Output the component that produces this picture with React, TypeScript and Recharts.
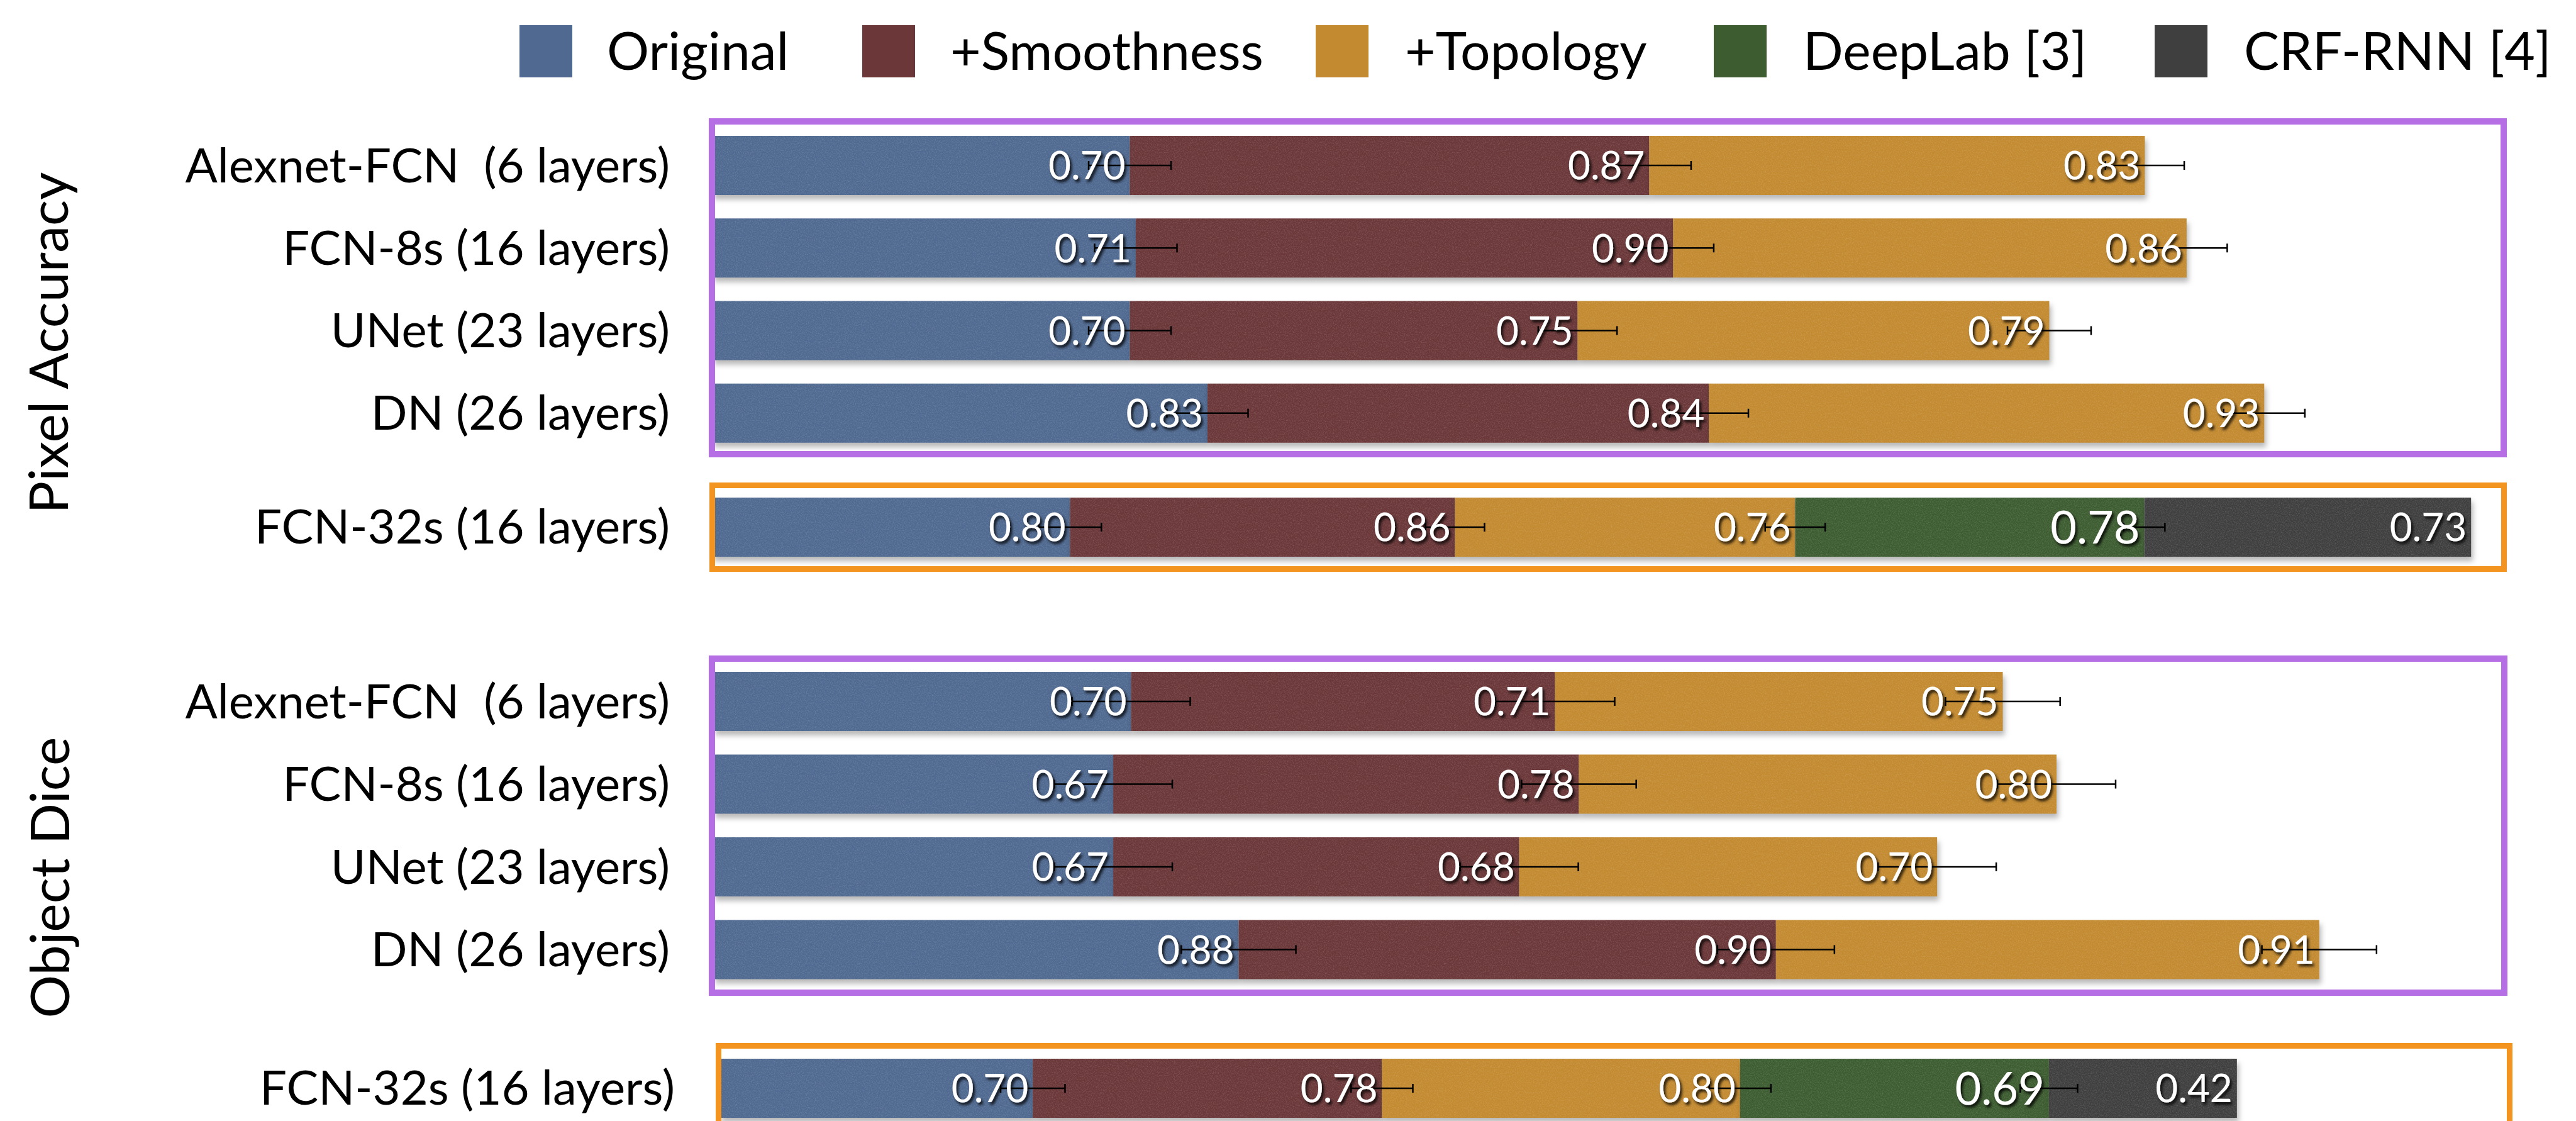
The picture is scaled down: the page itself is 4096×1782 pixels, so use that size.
import React from "react";
import { BarChart, Bar, XAxis, YAxis, ErrorBar, LabelList } from "recharts";

const FONT = "Lato, 'Open Sans', sans-serif";

// legend / series
const SERIES_NAMES = ["Original", "+Smoothness", "+Topology", "DeepLab [3]", "CRF-RNN [4]"];
const SERIES_KEYS = ["original", "smooth", "topo", "deeplab", "crf"];
const SERIES_COLORS = ["#4f6990", "#6b3739", "#c38a30", "#3d5d31", "#3f3f3f"];

// category labels
const MODELS = ["Alexnet-FCN \u00a0(6 layers)", "FCN-8s (16 layers)", "UNet (23 layers)", "DN (26 layers)"];
const BASELINE = ["FCN-32s (16 layers)"];

// Pixel Accuracy
const pixOriginal = [0.70, 0.71, 0.70, 0.83];
const pixSmooth = [0.87, 0.90, 0.75, 0.84];
const pixTopo = [0.83, 0.86, 0.79, 0.93];
const pixOriginalErr = [0.069, 0.069, 0.069, 0.068];
const pixSmoothErr = [0.070, 0.068, 0.066, 0.066];
const pixTopoErr = [0.066, 0.068, 0.070, 0.068];

const pixBase = [0.80, 0.86, 0.76, 0.78, 0.73];
const pixBaseErr = [0.070, 0.066, 0.067, 0.046];

// Object Dice
const diceOriginal = [0.70, 0.67, 0.67, 0.88];
const diceSmooth = [0.71, 0.78, 0.68, 0.90];
const diceTopo = [0.75, 0.80, 0.70, 0.91];
const diceOriginalErr = [0.099, 0.099, 0.099, 0.096];
const diceSmoothErr = [0.100, 0.096, 0.099, 0.098];
const diceTopoErr = [0.096, 0.099, 0.099, 0.096];

const diceBase = [0.70, 0.78, 0.80, 0.69, 0.42];
const diceBaseErr = [0.072, 0.069, 0.069, 0.064];

const mainRows = (o: number[], s: number[], t: number[], oe: number[], se: number[], te: number[]) =>
  MODELS.map((model, i) => ({
    model,
    original: o[i], smooth: s[i], topo: t[i],
    originalErr: oe[i], smoothErr: se[i], topoErr: te[i],
  }));

const baseRows = (v: number[], e: number[]) =>
  BASELINE.map((model) => {
    const row: Record<string, any> = { model };
    v.forEach((val, i) => { row[SERIES_KEYS[i]] = val; });
    e.forEach((err, i) => { row[SERIES_KEYS[i] + "Err"] = err; });
    return row;
  });

const pixMainData = mainRows(pixOriginal, pixSmooth, pixTopo, pixOriginalErr, pixSmoothErr, pixTopoErr);
const pixBaseData = baseRows(pixBase, pixBaseErr);
const diceMainData = mainRows(diceOriginal, diceSmooth, diceTopo, diceOriginalErr, diceSmoothErr, diceTopoErr);
const diceBaseData = baseRows(diceBase, diceBaseErr);

const makeLabel = (big: boolean) => (props: any) => {
  const vb = props.viewBox ?? props;
  const { x, y, width, height } = vb;
  if (props.value == null) return null;
  return (
    <text
      x={x + width - 7}
      y={y + height / 2}
      dy="0.36em"
      textAnchor="end"
      fill="#fff"
      fontFamily={FONT}
      fontSize={big ? 72 : 62}
      filter="url(#txtShadow)"
    >
      {Number(props.value).toFixed(2)}
    </text>
  );
};

interface StackChartProps {
  data: Array<Record<string, any>>;
  nSeries: number;
  withErr: number;
  top: number;
  height: number;
  axisWidth: number;
  labelGap: number;
  domainMax: number;
  plotWidth: number;
}

function StackChart({ data, nSeries, withErr, top, height, axisWidth, labelGap, domainMax, plotWidth }: StackChartProps) {
  return (
    <div style={{ position: "absolute", left: 0, top }}>
      <BarChart
        layout="vertical"
        width={axisWidth + plotWidth}
        height={height}
        data={data}
        margin={{ top: 0, right: 0, bottom: 0, left: 0 }}
        barSize={94}
        barCategoryGap={0}
      >
        <XAxis type="number" domain={[0, domainMax]} hide />
        <YAxis
          type="category"
          dataKey="model"
          width={axisWidth}
          axisLine={false}
          tickLine={false}
          tickSize={0}
          tickMargin={labelGap}
          interval={0}
          tick={{ fontSize: 76, fill: "#000", fontFamily: FONT }}
        />
        {SERIES_KEYS.slice(0, nSeries).map((key, i) => (
          <Bar
            key={key}
            dataKey={key}
            stackId="s"
            fill={SERIES_COLORS[i]}
            isAnimationActive={false}
            filter="url(#barFx)"
          >
            {i < withErr && (
              <ErrorBar dataKey={key + "Err"} direction="x" width={7} stroke="#000" strokeWidth={2.5} />
            )}
            <LabelList dataKey={key} content={makeLabel(i === 3)} />
          </Bar>
        ))}
      </BarChart>
    </div>
  );
}

const box = (left: number, top: number, width: number, height: number, color: string, bw: number) => (
  <div
    style={{
      position: "absolute", left, top, width, height,
      border: `${bw}px solid ${color}`, boxSizing: "border-box", pointerEvents: "none",
    }}
  />
);

const LEGEND_SWATCH_X = [826, 1371, 2092, 2725, 3426];
const LEGEND_TEXT_X = [965, 1511, 2234, 2867, 3568];

export default function App() {
  return (
    <div style={{ position: "absolute", left: 0, top: 0, width: 4096, height: 1782, overflow: "hidden", background: "#fff" }}>
      <svg width={0} height={0} style={{ position: "absolute" }}>
        <defs>
          <filter id="txtShadow" x="-20%" y="-30%" width="150%" height="170%">
            <feDropShadow dx="3" dy="4" stdDeviation="2" floodColor="#000" floodOpacity="0.85" />
          </filter>
          <filter id="barFx" x="-5%" y="-10%" width="110%" height="145%" colorInterpolationFilters="sRGB">
            <feGaussianBlur in="SourceAlpha" stdDeviation="4" result="b0" />
            <feOffset in="b0" dx="3" dy="7" result="b1" />
            <feFlood floodColor="#000" floodOpacity="0.28" result="fl" />
            <feComposite in="fl" in2="b1" operator="in" result="shadow" />
            <feTurbulence type="fractalNoise" baseFrequency="0.55" numOctaves="3" seed="7" result="noise" />
            <feColorMatrix
              in="noise"
              type="matrix"
              values="0 0 0 0 1  0 0 0 0 1  0 0 0 0 1  0.3 0 0 0 -0.12"
              result="speck"
            />
            <feComposite in="speck" in2="SourceGraphic" operator="in" result="tex" />
            <feMerge>
              <feMergeNode in="shadow" />
              <feMergeNode in="SourceGraphic" />
              <feMergeNode in="tex" />
            </feMerge>
          </filter>
        </defs>
      </svg>

      {/* legend */}
      <svg width={4096} height={150} style={{ position: "absolute", left: 0, top: 0 }}>
        {SERIES_NAMES.map((name, i) => (
          <g key={name}>
            <rect x={LEGEND_SWATCH_X[i]} y={40} width={84} height={83} fill={SERIES_COLORS[i]} />
            <text x={LEGEND_TEXT_X[i]} y={111} fontFamily={FONT} fontSize={84} fill="#000">
              {name}
            </text>
          </g>
        ))}
      </svg>

      {/* group titles */}
      <svg width={200} height={1782} style={{ position: "absolute", left: 0, top: 0 }}>
        <text transform="translate(108,545) rotate(-90)" textAnchor="middle" fontFamily={FONT} fontSize={86} fill="#000">
          Pixel Accuracy
        </text>
        <text transform="translate(110,1395) rotate(-90)" textAnchor="middle" fontFamily={FONT} fontSize={86} fill="#000">
          Object Dice
        </text>
      </svg>

      <StackChart data={pixMainData} nSeries={3} withErr={3} top={197} height={525}
        axisWidth={1132} labelGap={67} domainMax={3} plotWidth={2848} />
      <StackChart data={pixBaseData} nSeries={5} withErr={4} top={772} height={131}
        axisWidth={1132} labelGap={67} domainMax={4} plotWidth={2847} />
      <StackChart data={diceMainData} nSeries={3} withErr={3} top={1049} height={526}
        axisWidth={1134} labelGap={69} domainMax={3} plotWidth={2848} />
      <StackChart data={diceBaseData} nSeries={5} withErr={4} top={1664} height={131}
        axisWidth={1144} labelGap={71} domainMax={4} plotWidth={2847} />

      {box(1127, 188, 2859, 539, "#b56ee3", 10)}
      {box(1128, 767, 2858, 142, "#f39320", 9)}
      {box(1127, 1042, 2860, 541, "#b56ee3", 10)}
      {box(1138, 1658, 2857, 144, "#f39320", 9)}
    </div>
  );
}
